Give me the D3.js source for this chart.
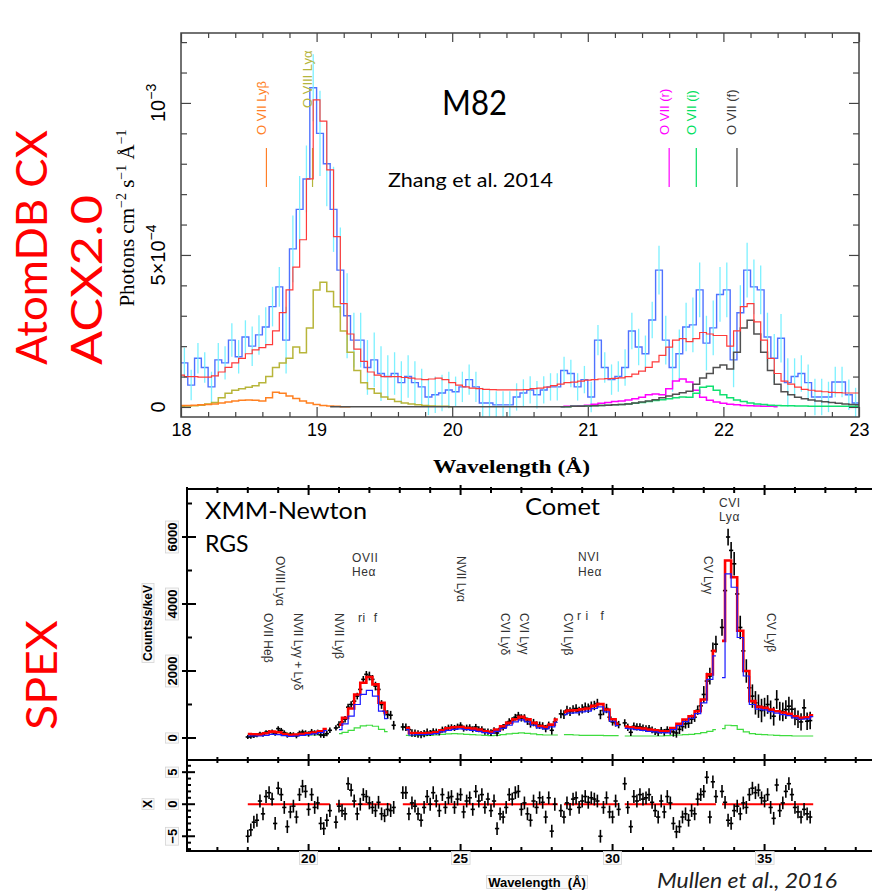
<!DOCTYPE html>
<html><head><meta charset="utf-8">
<script src="https://cdn.jsdelivr.net/npm/d3@7"></script>
<style>body{margin:0;background:#fff}text{white-space:pre}</style>
</head><body>
<svg id="c" width="872" height="893" xmlns="http://www.w3.org/2000/svg"></svg>
<script>
// ================= DATA: top panel (M82, AtomDB CX / ACX2.0) =================
// flux in units of 1e-4 photons cm^-2 s^-1 A^-1
const topStart = 18.0, topStep = 0.05;
const topFlux = [1.45,0.72,1.6,1.3,0.66,1.55,1.45,2.2,1.65,2.3, 2.0,2.37,2.63,3.3,3.95,2.2,5.2,6.5,7.5,10.5,
  9.0,8.0,6.5,4.5,3.0,2.2,2.2,1.3,1.55,1.1, 1.0,1.1,0.8,1.0,0.8,0.66,0.33,0.4,0.46,0.56,
  0.5,0.66,0.9,0.66,0.13,0.13,0.07,0.07,0.07,0.33, 0.46,0.56,0.4,0.56,0.66,0.66,1.2,1.1,0.66,0.9,
  0.33,2.2,1.3,0.9,1.0,1.3,2.5,1.97,1.75,2.86, 4.5,2.2,1.3,1.75,2.63,2.7,3.85,2.1,2.6,3.7,
  3.85,1.55,3.1,4.5,3.95,3.85,2.3,1.6,2.26,0.8, 1.0,1.1,0.8,0.33,0.33,0.33,0.82,0.82,0.4,0.13];
const topErr = [0.5,0.55,0.65,1.1,1.4,0.9,0.7,0.6,0.5,0.45,0.45,0.45,0.5,0.6,0.8,0.9,0.9,0.8,0.6,0.5]; // per 0.25 A
const topModel = [1.05,1.0,1.0,0.98,0.98,1.02,1.15,1.3,1.45,1.6, 1.75,1.88,1.95,2.05,2.5,3.1,3.85,4.6,5.5,7.5,
  10.1,9.4,7.8,5.6,3.4,2.4,1.9,1.5,1.15,1.05, 1.0,1.0,1.0,0.97,0.95,0.92,0.9,0.92,0.95,0.9,
  0.8,0.72,0.66,0.62,0.6,0.58,0.57,0.56,0.56,0.56, 0.56,0.57,0.6,0.62,0.65,0.7,0.75,0.8,0.82,0.85,
  0.88,0.9,0.92,0.93,0.94,0.96,1.0,1.08,1.18,1.3, 1.48,1.7,1.97,2.2,2.25,2.15,2.25,2.45,2.4,2.35,
  2.35,2.0,2.5,3.3,3.4,2.8,2.2,1.6,1.1,0.85, 0.75,0.65,0.58,0.55,0.52,0.5,0.48,0.47,0.46,0.46, 0.46];
const compOVIIILya = [0.02,0.03,0.04,0.06,0.1,0.15,0.3,0.45,0.55,0.6, 0.65,0.7,0.8,1.0,1.3,1.45,1.6,1.97,1.78,2.6,
  3.85,4.1,3.8,3.3,2.5,1.8,1.2,0.8,0.6,0.45, 0.33,0.25,0.18,0.13,0.1,0.07,0.05,0.03,0.02,0.02, 0.01];
const compOVIILyb = [0.05,0.05,0.06,0.07,0.08,0.1,0.13,0.16,0.2,0.22, 0.23,0.22,0.2,0.3,0.48,0.45,0.36,0.28,0.2,0.13,
  0.08,0.05,0.03,0.02,0.01,0.01];
const compOVIIr = [0.01,0.02,0.03,0.04,0.06,0.09,0.12,0.15,0.18,0.2, 0.23,0.27,0.32,0.4,0.43,0.4,0.6,0.85,0.92,0.82,
  0.55,0.32,0.22,0.16,0.12,0.09,0.07,0.05,0.04,0.03, 0.02,0.02,0.01];
const compOVIIi = [0.01,0.01,0.02,0.02,0.03,0.04,0.05,0.06,0.07,0.08, 0.1,0.12,0.15,0.18,0.21,0.24,0.27,0.3,0.33,0.32,
  0.45,0.65,0.68,0.55,0.4,0.3,0.23,0.18,0.13,0.1, 0.08,0.06,0.05,0.04,0.04,0.03,0.03,0.02,0.02,0.02, 0.02,0.02,0.02,0.02,0.02];
const compOVIIf = [0.01,0.01,0.01,0.01,0.01,0.01,0.01,0.01,0.01,0.01, 0.01,0.01,0.01,0.01,0.01,0.01,0.01,0.01,0.01,0.01,
  0.01,0.01,0.01,0.01,0.01,0.01,0.01,0.01,0.01,0.01, 0.01,0.01,0.01,0.01,
  0.01,0.01,0.02,0.02,0.03,0.04,0.05,0.06,0.07,0.08, 0.1,0.13,0.16,0.2,0.24,0.3,0.36,0.42,0.47,0.52,
  0.75,0.95,1.1,1.3,1.38,1.25,1.8,2.6,2.85,2.4, 1.8,1.2,0.75,0.5,0.4,0.32,0.27,0.23,0.2,0.17, 0.15,0.12,0.1,0.08,0.07];
const compStarts = [18.0, 18.0, 20.8, 20.8, 19.1];
const compColors = ['#b8b53a', '#ff8020', '#ff00ff', '#10e070', '#505050'];
const topLineNames = ['O VII Ly\u03b2', 'O VIII Ly\u03b1', 'O VII (r)', 'O VII (i)', 'O VII (f)'];
const topLineWaves = [18.63, 18.97, 21.60, 21.80, 22.10];
const topLineColors = ['#ff7f27', '#b5b53c', '#ff00ff', '#00e060', '#3a3a3a'];
const topLineLabelY = [135, 108, 135, 135, 135];
const topXTicks = [18, 19, 20, 21, 22, 23];

// ================= DATA: bottom panel (Comet, SPEX) =================
const modelWave = d3.range(94).map(i => +(18 + 0.2 * i).toFixed(1));
const cometRed = [120,110,100,140,190,170,120,90,100,120, 140,160,200,270,null,400,600,880,1300,1650,
  1820,1600,1050,760,null,null,300,150,150,140, 150,170,230,290,320,330,300,280,250,200,
  180,250,350,450,560,630,560,450,360,330, 400,550,780,820,830,860,880,960,1010,850,
  560,420,340,320,300,280,250,230,200,200, 300,420,550,650,800,1150,1900,2600,2900,5300,
  4800,3200,2000,1100,930,900,850,800,760,720, 650,600,620,680];
const cometBlue = [60,60,60,80,110,100,70,50,60,80, 100,120,160,220,null,250,420,650,1000,1300,
  1420,1250,800,580,null,null,250,90,100,100, 110,130,180,230,260,270,250,230,200,160,
  140,200,290,380,480,540,480,380,300,270, 330,470,700,740,750,780,800,880,930,780,
  500,370,290,270,250,230,200,180,160,150, 250,370,490,590,730,1050,1750,2450,1800,4900,
  4500,3000,1850,1000,860,840,790,740,700,670, 600,560,570,640];
const cometGreen = [100,110,120,150,170,170,150,120,100,90, 90,90,100,110,null,130,170,230,300,360,
  380,350,260,190,null,null,80,70,70,70, 80,90,110,120,130,120,110,100,90,80,
  70,80,100,120,140,150,140,120,100,90, 90,90,100,100,90,80,80,80,80,70,
  70,70,60,60,60,60,60,60,60,70, 80,90,100,110,130,160,200,250,280,380,
  370,260,180,130,110,100,90,80,70,70, 60,60,60,60];
const dataWave = d3.range(186).map(i => +(18 + 0.1 * i).toFixed(1));
const cometCounts = [30,40,60,80,130,100,170,180,190,130, 280,230,160,80,110,100,60,150,180,160,
  120,190,150,170,90,80,130,230,null,300, 400,480,560,920,1000,1100,1250,1450,1750,1900,
  1850,1750,1550,1450,1000,800,700,680,380,null, null,330,320,250,150,140,120,100,130,170,
  150,200,190,170,250,260,310,320,300,340, 380,280,310,320,260,330,260,260,190,190,
  160,220,150,280,320,390,490,520,620,680, 600,600,500,420,460,390,380,360,280,380,
  230,480,null,720,700,830,790,850,880,800, 870,920,890,950,970,1030,700,820,880,620,
  480,450,400,null,450,320,170,350,330,330, 300,280,290,240,190,160,230,170,250,200,
  180,150,260,340,420,440,560,620,830,960, 1300,1700,1850,2600,2800,null,3300,4400,6000,5600,
  5200,4300,3300,2600,2000,1500,1250,1050,950,820, 920,1000,840,650,1150,800,780,850,950,860,
  640,560,480,900,500,520];
const cometErr = [60,70,80,100,130,110,90,90,100,110,130,140,110,100,140,250,350,280,260]; // per 1 A from 18 A
const cometResid = [-5.0,-4.0,-2.8,-2.5,0.5,-1.5,1.2,1.8,0.8,-3.0, 2.5,1.5,-0.5,-3.5,-1.2,-0.3,-2.0,1.5,2.8,2.0,
  -0.8,1.5,-0.5,0.2,-3.0,-3.8,-2.5,-1.0,null,-2.8, -0.3,-1.0,-1.5,3.2,2.2,0.5,-1.5,0.0,1.5,1.2,
  0.2,-0.5,-1.0,0.3,-1.5,-1.8,-0.8,-1.0,-0.5,null, null,1.8,1.8,-1.5,0.2,-0.3,-1.5,-2.5,-0.5,1.2,
  0.0,1.8,0.5,-1.0,1.5,-0.5,1.0,1.2,-0.5,0.8, 1.5,-1.2,0.5,1.0,-0.8,2.0,0.5,1.5,-0.5,0.8,
  -1.0,0.5,-3.8,-1.5,-2.0,-0.5,1.5,0.8,1.8,2.0, -0.8,0.2,-1.5,-2.5,0.5,-0.5,1.0,0.3,-2.0,1.0,
  -4.2,0.0,null,-1.0,-2.0,0.2,-0.8,0.8,1.0,-0.5, 0.5,1.2,0.3,1.0,0.8,0.5,-5.0,-0.5,1.0,-1.2,
  -2.0,0.5,-0.8,null,3.2,-0.5,-3.5,1.2,0.5,1.5, 0.8,1.0,1.5,0.3,-1.0,-2.0,0.5,-1.2,1.2,0.2,
  -3.0,-4.3,-3.5,-2.0,-1.5,-2.5,-1.0,-1.5,0.8,1.5, 2.0,4.2,-2.0,3.5,1.2,null,2.0,0.3,-2.5,-3.0,
  -1.0,-0.3,-1.5,0.2,-0.5,1.5,2.5,1.8,2.2,1.0, 0.5,1.5,-0.5,-2.2,3.0,-1.0,0.2,2.0,3.2,1.5,
  -0.5,-1.2,-2.0,-0.8,-1.5,-2.0];
const cometSegs = [[17.95,20.75],[20.85,22.75],[23.05,28.25],[28.35,30.25],[30.35,33.45],[33.55,36.65]];
const cometLineNames = ['OVIII Ly\u03b1','OVII He\u03b2','NVII Ly\u03b3 + Ly\u03b4','NVII Ly\u03b2','NVII Ly\u03b1',
  'CVI Ly\u03b4','CVI Ly\u03b3','CVI Ly\u03b2','CV Ly\u03b3','CV Ly\u03b2'];
const cometLineWaves = [19.05, 18.65, 19.64, 20.99, 25.0, 26.45, 27.1, 28.55, 33.13, 35.2];
const cometLineTop = [556, 613, 613, 613, 556, 613, 613, 613, 556, 613];
const cometYTicks = [0, 2000, 4000, 6000];
const residYTicks = [-5, 0, 5];
const cometXTicks = [20, 25, 30, 35];

// ================= DRAW =================
const svg = d3.select('#c');
const defs = svg.append('defs');
const SANS = "'Liberation Sans', Arial, sans-serif";
const SERIF = "'Liberation Serif', 'Times New Roman', serif";
const CAL = "Lato, 'Open Sans', sans-serif";

// ---------- TOP PANEL ----------
const tL = 181, tR = 859, tT = 33, tB = 417;
const xT = d3.scaleLinear().domain([18, 23]).range([tL, tR]);
const yT = d3.scaleLinear().domain([-0.33, 12.3]).range([tB, tT]);
defs.append('clipPath').attr('id', 'clipT').append('rect')
  .attr('x', tL).attr('y', tT).attr('width', tR - tL).attr('height', tB - tT);
const gT = svg.append('g');
const pT = gT.append('g').attr('clip-path', 'url(#clipT)');

// line markers (under data)
pT.selectAll('line.mk').data(topLineWaves).join('line')
  .attr('x1', d => xT(d)).attr('x2', d => xT(d)).attr('y1', 148).attr('y2', 187)
  .attr('stroke', (d, i) => topLineColors[i]).attr('stroke-width', 1.2);

const topBins = topFlux.map((v, i) => ({ w0: topStart + i * topStep, v }));
const stepPts = topBins.map(d => [d.w0, d.v]).concat([[topStart + topFlux.length * topStep, topFlux[topFlux.length - 1]]]);
pT.append('path')
  .attr('d', d3.line().x(d => xT(d[0])).y(d => yT(d[1])).curve(d3.curveStepAfter)(stepPts))
  .attr('fill', 'none').attr('stroke', '#4f72ff').attr('stroke-width', 1.4);
const errOf = d => topErr[Math.min(19, Math.floor((d.w0 - 18) / 0.25 + 1e-6))];
pT.selectAll('line.err').data(topBins).join('line')
  .attr('x1', d => xT(d.w0 + topStep / 2)).attr('x2', d => xT(d.w0 + topStep / 2))
  .attr('y1', d => yT(d.v - errOf(d))).attr('y2', d => yT(d.v + errOf(d)))
  .attr('stroke', '#6ff0ff').attr('stroke-width', 1.3).attr('opacity', 0.9);

const compLine = d3.line().x(d => xT(d[0])).y(d => yT(d[1])).curve(d3.curveStep);
[compOVIIILya, compOVIILyb, compOVIIr, compOVIIi, compOVIIf].forEach((arr, k) => {
  const pts = arr.map((v, i) => [compStarts[k] + i * topStep, v]);
  pT.append('path').attr('d', compLine(pts)).attr('fill', 'none')
    .attr('stroke', compColors[k]).attr('stroke-width', 1.5);
});
pT.append('path').attr('d', compLine(topModel.map((v, i) => [topStart + i * topStep, v])))
  .attr('fill', 'none').attr('stroke', '#ff3a3a').attr('stroke-width', 1.2);

// frame + ticks
gT.append('rect').attr('x', tL).attr('y', tT).attr('width', tR - tL).attr('height', tB - tT)
  .attr('fill', 'none').attr('stroke', '#444').attr('stroke-width', 1.5);
const minorX = d3.range(18, 23.001, 0.2).filter(v => Math.abs(v - Math.round(v)) > 0.01);
function clean(g) { g.select('.domain').remove(); g.selectAll('line').attr('stroke', '#444').attr('stroke-width', 1.2); }
gT.append('g').attr('transform', `translate(0,${tB})`)
  .call(d3.axisBottom(xT).tickValues(topXTicks).tickSize(-10).tickPadding(6).tickFormat(d3.format('d')))
  .call(clean).call(g => g.selectAll('text').attr('font-family', SANS).attr('font-size', 18).attr('fill', '#000'));
gT.append('g').attr('transform', `translate(0,${tB})`)
  .call(d3.axisBottom(xT).tickValues(minorX).tickSize(-5).tickFormat('')).call(clean);
gT.append('g').attr('transform', `translate(0,${tT})`)
  .call(d3.axisTop(xT).tickValues(topXTicks).tickSize(-9).tickFormat('')).call(clean);
gT.append('g').attr('transform', `translate(0,${tT})`)
  .call(d3.axisTop(xT).tickValues(minorX).tickSize(-5).tickFormat('')).call(clean);
const topYMajor = [0, 5, 10], topYMinor = [1, 2, 3, 4, 6, 7, 8, 9, 11, 12];
gT.append('g').attr('transform', `translate(${tL},0)`)
  .call(d3.axisLeft(yT).tickValues(topYMajor).tickSize(-10).tickFormat('')).call(clean);
gT.append('g').attr('transform', `translate(${tL},0)`)
  .call(d3.axisLeft(yT).tickValues(topYMinor).tickSize(-6).tickFormat('')).call(clean);
gT.append('g').attr('transform', `translate(${tR},0)`)
  .call(d3.axisRight(yT).tickValues(topYMajor).tickSize(-10).tickFormat('')).call(clean);
gT.append('g').attr('transform', `translate(${tR},0)`)
  .call(d3.axisRight(yT).tickValues(topYMinor).tickSize(-6).tickFormat('')).call(clean);

// y tick labels (rotated)
function ylab(v, base, exp) {
  const t = gT.append('text').attr('transform', `translate(165,${yT(v)}) rotate(-90)`)
    .attr('text-anchor', 'middle').attr('font-family', SANS).attr('font-size', 20).text(base);
  if (exp) t.append('tspan').attr('dy', -9).attr('font-size', 14).text(exp);
}
ylab(0, '0'); ylab(5, '5\u00d710', '\u22124'); ylab(10, '10', '\u22123');

// axis titles
const yl = gT.append('text').attr('transform', 'translate(134,218) rotate(-90)')
  .attr('text-anchor', 'middle').attr('font-family', SERIF).attr('font-size', 21);
yl.append('tspan').text('Photons cm');
yl.append('tspan').attr('dy', -8).attr('font-size', 14).text('\u22122');
yl.append('tspan').attr('dy', 8).text(' s');
yl.append('tspan').attr('dy', -8).attr('font-size', 14).text('\u22121');
yl.append('tspan').attr('dy', 8).text(' \u00c5');
yl.append('tspan').attr('dy', -8).attr('font-size', 14).text('\u22121');
gT.append('text').attr('x', 433).attr('y', 473)
  .attr('font-family', SERIF).attr('font-weight', 'bold').attr('font-size', 19)
  .attr('textLength', 157).attr('lengthAdjust', 'spacingAndGlyphs').text('Wavelength (\u00c5)');

// line labels
gT.selectAll('text.ll').data(topLineNames).join('text')
  .attr('transform', (d, i) => `translate(${xT(topLineWaves[i]) - 5},${topLineLabelY[i]}) rotate(-90)`)
  .attr('dominant-baseline', 'central').attr('font-family', SANS).attr('font-size', 13)
  .attr('fill', (d, i) => topLineColors[i]).text(d => d);

gT.append('text').attr('x', 442).attr('y', 115).attr('font-family', CAL).attr('font-size', 34)
  .attr('textLength', 65).attr('lengthAdjust', 'spacingAndGlyphs').text('M82');
gT.append('text').attr('x', 388).attr('y', 187).attr('font-family', CAL).attr('font-size', 19)
  .attr('textLength', 165).attr('lengthAdjust', 'spacingAndGlyphs').text('Zhang et al. 2014');

// red side titles
svg.append('text').attr('transform', 'translate(47,365) rotate(-90)').attr('font-family', CAL)
  .attr('font-size', 43).attr('fill', '#ff0000').attr('textLength', 235).attr('lengthAdjust', 'spacingAndGlyphs').text('AtomDB CX');
svg.append('text').attr('transform', 'translate(102,365) rotate(-90)').attr('font-family', CAL)
  .attr('font-size', 43).attr('fill', '#ff0000').attr('textLength', 170).attr('lengthAdjust', 'spacingAndGlyphs').text('ACX2.0');
svg.append('text').attr('transform', 'translate(57,730) rotate(-90)').attr('font-family', CAL)
  .attr('font-size', 43).attr('fill', '#ff0000').attr('textLength', 110).attr('lengthAdjust', 'spacingAndGlyphs').text('SPEX');

// ---------- BOTTOM PANEL ----------
const bL = 187, bR = 874, bT = 489, bM = 760, bB = 851;
const xB = d3.scaleLinear().domain([16, 38.6]).range([bL, bR]);
const yB = d3.scaleLinear().domain([-657, 7433]).range([bM, bT]);
const yR = d3.scaleLinear().domain([-7.3, 6.9]).range([bB, bM]);
defs.append('clipPath').attr('id', 'clipB').append('rect').attr('x', bL).attr('y', bT).attr('width', bR - bL).attr('height', bM - bT);
defs.append('clipPath').attr('id', 'clipR').append('rect').attr('x', bL).attr('y', bM).attr('width', bR - bL).attr('height', bB - bM);
const gB = svg.append('g');
const pB = gB.append('g').attr('clip-path', 'url(#clipB)');
const pR = gB.append('g').attr('clip-path', 'url(#clipR)');

const mLine = d3.line().x(d => xB(d[0])).y(d => yB(d[1])).curve(d3.curveStep);
function drawModel(arr, color, width) {
  cometSegs.forEach(([a, b]) => {
    const pts = modelWave.map((w, i) => [w, arr[i]]).filter(p => p[0] >= a && p[0] <= b && p[1] != null);
    if (pts.length > 1) pB.append('path').attr('d', mLine(pts)).attr('fill', 'none')
      .attr('stroke', color).attr('stroke-width', width);
  });
}
drawModel(cometGreen, '#3fdc3f', 1.2);

const pts = dataWave.map((w, i) => ({ w, c: cometCounts[i], r: cometResid[i], e: cometErr[Math.min(18, Math.floor(w - 18 + 1e-6))] }));
const dPts = pts.filter(d => d.c != null);
pB.selectAll('line.ev').data(dPts).join('line')
  .attr('x1', d => xB(d.w)).attr('x2', d => xB(d.w)).attr('y1', d => yB(d.c - d.e)).attr('y2', d => yB(d.c + d.e))
  .attr('stroke', '#000').attr('stroke-width', 1.6);
pB.selectAll('line.eh').data(dPts).join('line')
  .attr('x1', d => xB(d.w - 0.07)).attr('x2', d => xB(d.w + 0.07)).attr('y1', d => yB(d.c)).attr('y2', d => yB(d.c))
  .attr('stroke', '#000').attr('stroke-width', 1.6);
drawModel(cometRed, '#ff0000', 2.6);
drawModel(cometBlue, '#1a1aff', 1.2);

// residuals
cometSegs.forEach(([a, b]) => {
  pR.append('line').attr('x1', xB(a + 0.05)).attr('x2', xB(b - 0.05)).attr('y1', yR(0)).attr('y2', yR(0))
    .attr('stroke', '#ff0000').attr('stroke-width', 2);
});
const rPts = pts.filter(d => d.r != null);
pR.selectAll('line.rv').data(rPts).join('line')
  .attr('x1', d => xB(d.w)).attr('x2', d => xB(d.w)).attr('y1', d => yR(d.r - 1)).attr('y2', d => yR(d.r + 1))
  .attr('stroke', '#000').attr('stroke-width', 1.6);
pR.selectAll('line.rh').data(rPts).join('line')
  .attr('x1', d => xB(d.w - 0.07)).attr('x2', d => xB(d.w + 0.07)).attr('y1', d => yR(d.r)).attr('y2', d => yR(d.r))
  .attr('stroke', '#000').attr('stroke-width', 1.6);

// frames
gB.append('rect').attr('x', bL).attr('y', bT).attr('width', bR - bL).attr('height', bB - bT)
  .attr('fill', 'none').attr('stroke', '#000').attr('stroke-width', 2);
gB.append('line').attr('x1', bL).attr('x2', bR).attr('y1', bM).attr('y2', bM).attr('stroke', '#000').attr('stroke-width', 2);

// ticks (from scales)
const xT1 = d3.range(16, 39, 1);
const isMaj = v => v % 5 === 0;
function tickLines(g, data, f) {
  g.selectAll(null).data(data).join('line').each(function (d) {
    const [x1, y1, x2, y2] = f(d);
    d3.select(this).attr('x1', x1).attr('y1', y1).attr('x2', x2).attr('y2', y2).attr('stroke', '#000').attr('stroke-width', 2);
  });
}
const gTk = gB.append('g');
tickLines(gTk, xT1, v => [xB(v), bT - (isMaj(v) ? 4 : 2), xB(v), bT + (isMaj(v) ? 6 : 4)]);
tickLines(gTk, xT1, v => [xB(v), bM - (isMaj(v) ? 6 : 3), xB(v), bM + (isMaj(v) ? 6 : 3)]);
tickLines(gTk, xT1, v => [xB(v), bB - (isMaj(v) ? 7 : 4), xB(v), bB]);
tickLines(gTk, cometYTicks, v => [bL - 5, yB(v), bL + 9, yB(v)]);
tickLines(gTk, [1000, 3000, 5000, 7000], v => [bL, yB(v), bL + 5, yB(v)]);
tickLines(gTk, residYTicks, v => [bL - 5, yR(v), bL + 8, yR(v)]);
tickLines(gTk, d3.range(-7, 7).filter(v => v % 5 !== 0), v => [bL, yR(v), bL + 4, yR(v)]);

function boxedText(g, tx, txt, size) {
  const t = g.append('text').attr('transform', tx).attr('text-anchor', 'middle').attr('dominant-baseline', 'central')
    .attr('font-family', SANS).attr('font-weight', 'bold').attr('font-size', size).text(txt);
  const bb = t.node().getBBox();
  g.insert('rect', () => t.node()).attr('transform', tx)
    .attr('x', bb.x - 1.5).attr('y', bb.y + 1).attr('width', bb.width + 3).attr('height', bb.height - 2)
    .attr('fill', '#fafafa').attr('stroke', '#d4d4d4').attr('stroke-width', 0.8);
  return t;
}
cometYTicks.forEach(v => boxedText(gB, `translate(172,${yB(v)}) rotate(-90)`, String(v), 13));
residYTicks.forEach(v => boxedText(gB, `translate(172,${yR(v)}) rotate(-90)`, v < 0 ? '\u2212' + (-v) : String(v), 13));
cometXTicks.forEach(v => boxedText(gB, `translate(${xB(v)},858)`, String(v), 13.5));
boxedText(gB, 'translate(148,623) rotate(-90)', 'Counts/s/keV', 12);
boxedText(gB, 'translate(148,804) rotate(-90)', 'X', 12);
boxedText(gB, 'translate(537,882)', 'Wavelength  (\u00c5)', 13);

// annotations
gB.selectAll('text.cl').data(cometLineNames).join('text')
  .attr('transform', (d, i) => `translate(${xB(cometLineWaves[i])},${cometLineTop[i]}) rotate(90)`)
  .attr('dominant-baseline', 'central').attr('font-family', SANS).attr('font-size', 12).attr('fill', '#333').text(d => d);
const hl = [['OVII', 352, 562], ['He\u03b1', 352, 576], ['ri  f', 358, 622], ['NVI', 578, 561], ['He\u03b1', 578, 576],
  ['r i   f', 577, 620], ['CVI', 719, 507], ['Ly\u03b1', 719, 521]];
gB.selectAll('text.hl').data(hl).join('text').attr('x', d => d[1]).attr('y', d => d[2])
  .attr('font-family', SANS).attr('font-size', 12).attr('fill', '#333').attr('letter-spacing', 0.6).text(d => d[0]);

gB.append('text').attr('x', 205).attr('y', 519).attr('font-family', CAL).attr('font-size', 23)
  .attr('textLength', 162).attr('lengthAdjust', 'spacingAndGlyphs').text('XMM-Newton');
gB.append('text').attr('x', 205).attr('y', 552).attr('font-family', CAL).attr('font-size', 23).text('RGS');
gB.append('text').attr('x', 525).attr('y', 515).attr('font-family', CAL).attr('font-size', 23)
  .attr('textLength', 75).attr('lengthAdjust', 'spacingAndGlyphs').text('Comet');
gB.append('text').attr('x', 657).attr('y', 888).attr('font-family', CAL).attr('font-style', 'italic').attr('font-size', 21)
  .attr('fill', '#222').attr('textLength', 180).attr('lengthAdjust', 'spacingAndGlyphs').text('Mullen et al., 2016');
</script>
</body></html>
